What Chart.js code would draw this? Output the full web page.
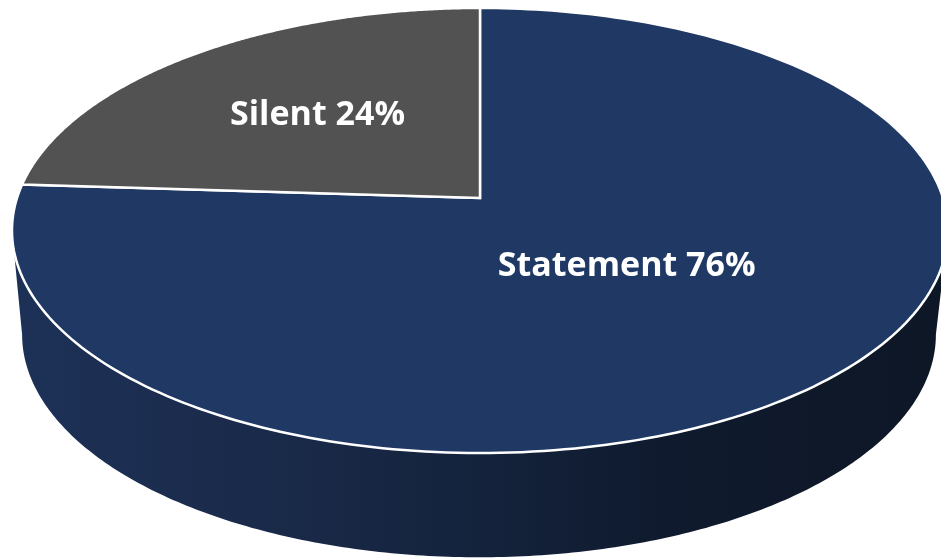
<!DOCTYPE html>
<html>
<head>
<meta charset="utf-8">
<title>Statement / Silent</title>
<script src="https://cdn.jsdelivr.net/npm/chart.js@4"></script>
<style>
    html, body { margin: 0; padding: 0; background: #fff; }
    canvas { display: block; }
</style>
</head>
<body>
<canvas id="pieChart" width="941" height="558"></canvas>
<script>
const categories = ['Statement', 'Silent'];
const shares = [76, 24];
const sliceColors = ['#1F3864', '#525252'];

// Tilted disc: the top face and the lower rim are the same circle seen in perspective
const topFace = { cx: 480, cy: 198, rx: 463, ry: 217.8, tilt: 0.146 };
const lowerRim = { cx: 479, cy: 302, rx: 452, ry: 218, tilt: 0.146 };

// Label spot along each slice's middle angle (fraction of radius), then a small nudge
const labelSpots = [
    { radius: 0.398, shiftX: 15, shiftY: 2 },
    { radius: 0.567, shiftX: 7, shiftY: 2 }
];

// Unit circle point -> screen, with the far side squeezed
function project(face, u, v) {
    const w = 1 - face.tilt * v;
    return { x: face.cx + face.rx * u / w, y: face.cy + face.ry * v / w };
}

function traceRim(ctx, face, from, to, move) {
    const steps = 240;
    for (let i = 0; i <= steps; i++) {
        const a = from + (to - from) * i / steps;
        const p = project(face, Math.cos(a), Math.sin(a));
        if (i === 0 && move) ctx.moveTo(p.x, p.y);
        else ctx.lineTo(p.x, p.y);
    }
}

function drawSide(ctx) {
    const edge = Math.asin(topFace.tilt);
    const side = ctx.createLinearGradient(12, 0, 941, 0);
    side.addColorStop(0, '#1D3157');
    side.addColorStop(0.26, '#1A2A4A');
    side.addColorStop(0.5, '#14233C');
    side.addColorStop(0.7, '#0F1A2E');
    side.addColorStop(1, '#0E1726');
    ctx.beginPath();
    traceRim(ctx, topFace, edge, Math.PI - edge, true);
    traceRim(ctx, lowerRim, Math.PI - edge, edge, false);
    ctx.closePath();
    ctx.fillStyle = side;
    ctx.fill();
}

const perspectivePie = {
    id: 'perspectivePie',
    // The default flat arcs are replaced, the slice angles still come from the controller
    beforeDatasetsDraw(chart) {
        const ctx = chart.ctx;
        const arcs = chart.getDatasetMeta(0).data;
        ctx.save();
        drawSide(ctx);
        arcs.forEach(arc => {
            const center = project(topFace, 0, 0);
            ctx.beginPath();
            ctx.moveTo(center.x, center.y);
            traceRim(ctx, topFace, arc.startAngle, arc.endAngle, false);
            ctx.closePath();
            ctx.fillStyle = arc.options.backgroundColor;
            ctx.fill();
            ctx.lineWidth = arc.options.borderWidth;
            ctx.strokeStyle = arc.options.borderColor;
            ctx.lineJoin = 'miter';
            ctx.stroke();
        });
        ctx.restore();
        return false;
    },
    // afterDatasetsDraw is skipped once the hook above cancels, so labels go here
    afterDraw(chart) {
        const ctx = chart.ctx;
        const arcs = chart.getDatasetMeta(0).data;
        ctx.save();
        ctx.font = 'bold 34px "Open Sans"';
        ctx.fillStyle = '#FFFFFF';
        ctx.textAlign = 'center';
        ctx.textBaseline = 'middle';
        arcs.forEach((arc, i) => {
            const mid = (arc.startAngle + arc.endAngle) / 2;
            const spot = labelSpots[i];
            const p = project(topFace, spot.radius * Math.cos(mid), spot.radius * Math.sin(mid));
            ctx.fillText(`${categories[i]} ${shares[i]}%`, p.x + spot.shiftX, p.y + spot.shiftY);
        });
        ctx.restore();
    }
};

new Chart(document.getElementById('pieChart'), {
    type: 'pie',
    data: {
        labels: categories,
        datasets: [{
            data: shares,
            backgroundColor: sliceColors,
            borderColor: '#FFFFFF',
            borderWidth: 2.5
        }]
    },
    options: {
        responsive: false,
        animation: false,
        plugins: {
            legend: { display: false },
            tooltip: { enabled: false }
        }
    },
    plugins: [perspectivePie]
});
</script>
</body>
</html>
